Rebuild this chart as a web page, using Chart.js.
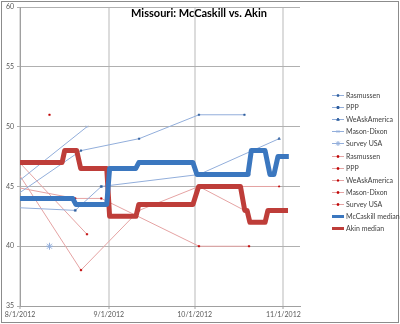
<!DOCTYPE html>
<html>
<head>
<meta charset="utf-8">
<script src="https://cdn.jsdelivr.net/npm/chart.js@4.4.0/dist/chart.umd.min.js"></script>
<style>
  html, body { margin: 0; padding: 0; background: #fff; }
</style>
</head>
<body>
<canvas id="pollChart" width="400" height="324"></canvas>
<script>
// x values are days counted from 8/1/2012
var pollsters = ['Rasmussen', 'PPP', 'WeAskAmerica', 'Mason-Dixon', 'Survey USA'];

var rasDays = [-3, 21.3, 41.6, 62.5, 78.4];
var rasMcCaskill = [44, 48, 49, 51, 51];
var rasAkin = [47, 38, 43, 45, 43];

var pppDays = [-25, 19.3, 28.4, 62.5, 80];
var pppMcCaskill = [43.5, 43, 45, 46, 46];
var pppAkin = [46, 44, 44, 40, 40];

var waaDays = [62.5, 90.5];
var waaMcCaskill = [46, 49];
var waaAkin = [45, 45];

var mdDays = [-8, 23.4];
var mdMcCaskill = [44, 50];
var mdAkin = [49, 41];

var susaDays = [10.3];
var susaMcCaskill = [40];
var susaAkin = [51];

var mccMedianDays = [0, 18.4, 19.5, 30.3, 31.3, 40.4, 41.5, 60.4, 61.8, 79.6, 80.8, 85.6, 87.3, 88.7, 90.1, 93.9];
var mccMedian = [44, 44, 43.5, 43.5, 46.5, 46.5, 47, 47, 46, 46, 48, 48, 46, 46, 47.5, 47.5];

var akinMedianDays = [0, 14.7, 15.6, 19.8, 21.2, 30.3, 31.3, 40.5, 41.5, 60.4, 62.4, 77, 78.5, 79.3, 80.3, 85.6, 86.6, 93.6];
var akinMedian = [47, 47, 48, 48, 46.5, 46.5, 42.5, 42.5, 43.5, 43.5, 45, 45, 43, 43, 42, 42, 43, 43];

var xTickDays = [0, 31, 61, 92];
var xTickLabels = ['8/1/2012', '9/1/2012', '10/1/2012', '11/1/2012'];

var blueLine = '#92aedb', blueMark = '#2f5f9f';
var redLine = '#e5a3a3', redMark = '#c00000';
var blueStyles = ['rect', 'rect', 'triangle', 'crossRot', 'star'];
var blueRadius = [1.1, 1.4, 1.5, 1.8, 3.5];
var redStyles = ['rect', 'rect', 'triangle', 'rect', 'rect'];
var smallFont = '"Liberation Sans Narrow", Lato, sans-serif';

function pts(days, vals) {
  return days.map(function (d, i) { return {x: d, y: vals[i]}; });
}

function pollSet(label, days, vals, lineColor, markColor, style, radius) {
  return {
    label: label,
    data: pts(days, vals),
    showLine: true,
    borderColor: lineColor,
    borderWidth: 1,
    backgroundColor: markColor,
    pointBorderColor: style === 'star' || style === 'crossRot' ? lineColor : markColor,
    pointBorderWidth: style === 'star' ? 1 : 0.5,
    pointStyle: style,
    pointRadius: radius,
    order: 1
  };
}

var blueData = [[rasDays, rasMcCaskill], [pppDays, pppMcCaskill], [waaDays, waaMcCaskill], [mdDays, mdMcCaskill], [susaDays, susaMcCaskill]];
var redData = [[rasDays, rasAkin], [pppDays, pppAkin], [waaDays, waaAkin], [mdDays, mdAkin], [susaDays, susaAkin]];

var datasets = [];
blueData.forEach(function (d, i) {
  datasets.push(pollSet(pollsters[i], d[0], d[1], blueLine, blueMark, blueStyles[i], blueRadius[i]));
});
redData.forEach(function (d, i) {
  datasets.push(pollSet(pollsters[i], d[0], d[1], redLine, redMark, redStyles[i], 1.1));
});
datasets.push({
  label: 'McCaskill median', data: pts(mccMedianDays, mccMedian), showLine: true,
  borderColor: '#3b77bf', borderWidth: 5, pointRadius: 0, borderJoinStyle: 'round', order: 0
});
datasets.push({
  label: 'Akin median', data: pts(akinMedianDays, akinMedian), showLine: true,
  borderColor: '#be3d39', borderWidth: 5, pointRadius: 0, borderJoinStyle: 'round', order: 0
});

// frame, title and the line-sample legend on the right
var decorations = {
  id: 'decorations',
  afterDraw: function (chart) {
    var ctx = chart.ctx;
    ctx.save();
    ctx.strokeStyle = '#8c8c8c';
    ctx.lineWidth = 1;
    ctx.strokeRect(1.5, 1.5, 397, 321);

    ctx.fillStyle = '#000';
    ctx.font = 'bold 11px Lato, sans-serif';
    ctx.textAlign = 'center';
    ctx.textBaseline = 'middle';
    ctx.fillText('Missouri: McCaskill vs. Akin', 199, 13);

    ctx.textAlign = 'left';
    ctx.font = '7px ' + smallFont;
    chart.data.datasets.forEach(function (ds, i) {
      var y = Math.round(95 + i * 12.1) + 0.5;
      ctx.strokeStyle = ds.borderColor;
      ctx.lineWidth = ds.borderWidth > 2 ? 3 : 1;
      ctx.beginPath();
      ctx.moveTo(332, y);
      ctx.lineTo(344, y);
      ctx.stroke();
      if (ds.pointRadius) {
        ctx.fillStyle = ds.backgroundColor;
        ctx.strokeStyle = ds.pointBorderColor;
        ctx.lineWidth = 1;
        Chart.helpers.drawPoint(ctx, {pointStyle: ds.pointStyle, radius: Math.min(ds.pointRadius, 2.5), rotation: 0, borderWidth: 1}, 338, y);
      }
      ctx.fillStyle = '#404040';
      ctx.fillText(ds.label, 346, y);
    });
    ctx.restore();
  }
};

new Chart(document.getElementById('pollChart'), {
  type: 'scatter',
  data: {datasets: datasets},
  options: {
    responsive: false,
    animation: false,
    layout: {padding: {top: 7, right: 100, left: 0, bottom: 0}},
    plugins: {legend: {display: false}, tooltip: {enabled: false}},
    scales: {
      x: {
        type: 'linear',
        min: 0,
        max: 97.8,
        afterBuildTicks: function (scale) {
          scale.ticks = xTickDays.map(function (d) { return {value: d}; });
        },
        afterFit: function (scale) { scale.height = 18; },
        ticks: {
          autoSkip: false,
          maxRotation: 0,
          padding: 2,
          color: '#595959',
          font: {size: 7, family: smallFont},
          callback: function (v) { return xTickLabels[xTickDays.indexOf(v)]; }
        },
        grid: {color: '#dcdcdc', lineWidth: 2, tickLength: 3, tickColor: '#a0a0a0', tickWidth: 1},
        border: {color: '#a0a0a0'}
      },
      y: {
        min: 35,
        max: 60,
        afterFit: function (scale) { scale.width = 20; },
        ticks: {
          stepSize: 5,
          padding: 3,
          color: '#595959',
          font: {size: 7, family: smallFont}
        },
        grid: {color: '#b0b0b0', lineWidth: 1, tickLength: 3},
        border: {color: '#a0a0a0'}
      }
    }
  },
  plugins: [decorations]
});
</script>
</body>
</html>
